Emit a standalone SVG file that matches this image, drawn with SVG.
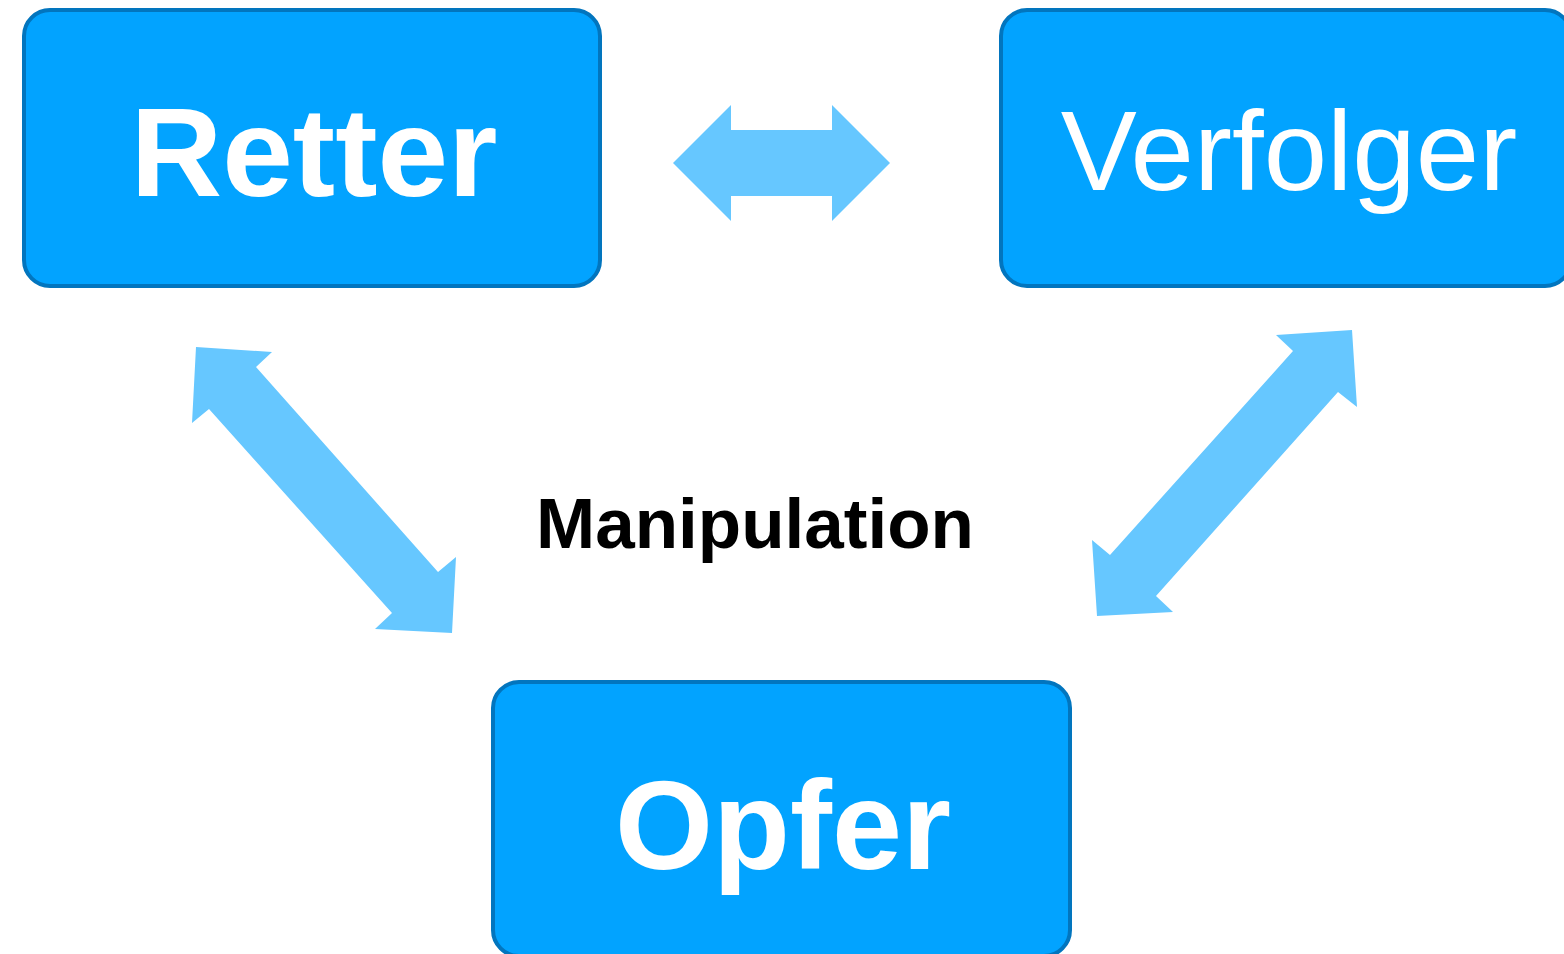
<svg xmlns="http://www.w3.org/2000/svg" width="1564" height="954" viewBox="0 0 1564 954">
<style>
.box{fill:#02A3FF;stroke:#0275BE;stroke-width:4}
.lbl{fill:#fff;font-family:"Liberation Sans",Arial,sans-serif;text-anchor:middle}
.arr{fill:#66C7FF}
</style>
<rect width="1564" height="954" fill="#fff"/>
<g id="connectors">
<polygon class="arr" points="673,163 731,105 731,130 832,130 832,105 890,163 832,221 832,196 731,196 731,221"/>
<polygon class="arr" points="196,347 272,352 256,367 438,572 456,557 452,633 375,629 392,613 209,409 192,423"/>
<polygon class="arr" points="1352,330 1357,407 1338,392 1156,596 1173,612 1097,616 1092,540 1110,555 1293,351 1276,335"/>
</g>
<g id="retter">
<rect class="box" x="24" y="10" width="576" height="276" rx="26"/>
<text class="lbl" x="314" y="196" font-size="127" font-weight="bold">Retter</text>
</g>
<g id="verfolger">
<rect class="box" x="1001" y="10" width="570" height="276" rx="26"/>
<text class="lbl" x="1289" y="190" font-size="114">Verfolger</text>
</g>
<g id="opfer">
<rect class="box" x="493" y="682" width="577" height="274" rx="26"/>
<text class="lbl" x="783" y="869" font-size="126" font-weight="bold">Opfer</text>
</g>
<g id="manipulation">
<text x="755" y="548" font-size="71" font-weight="bold" font-family="Liberation Sans,Arial,sans-serif" text-anchor="middle" fill="#000">Manipulation</text>
</g>
</svg>
